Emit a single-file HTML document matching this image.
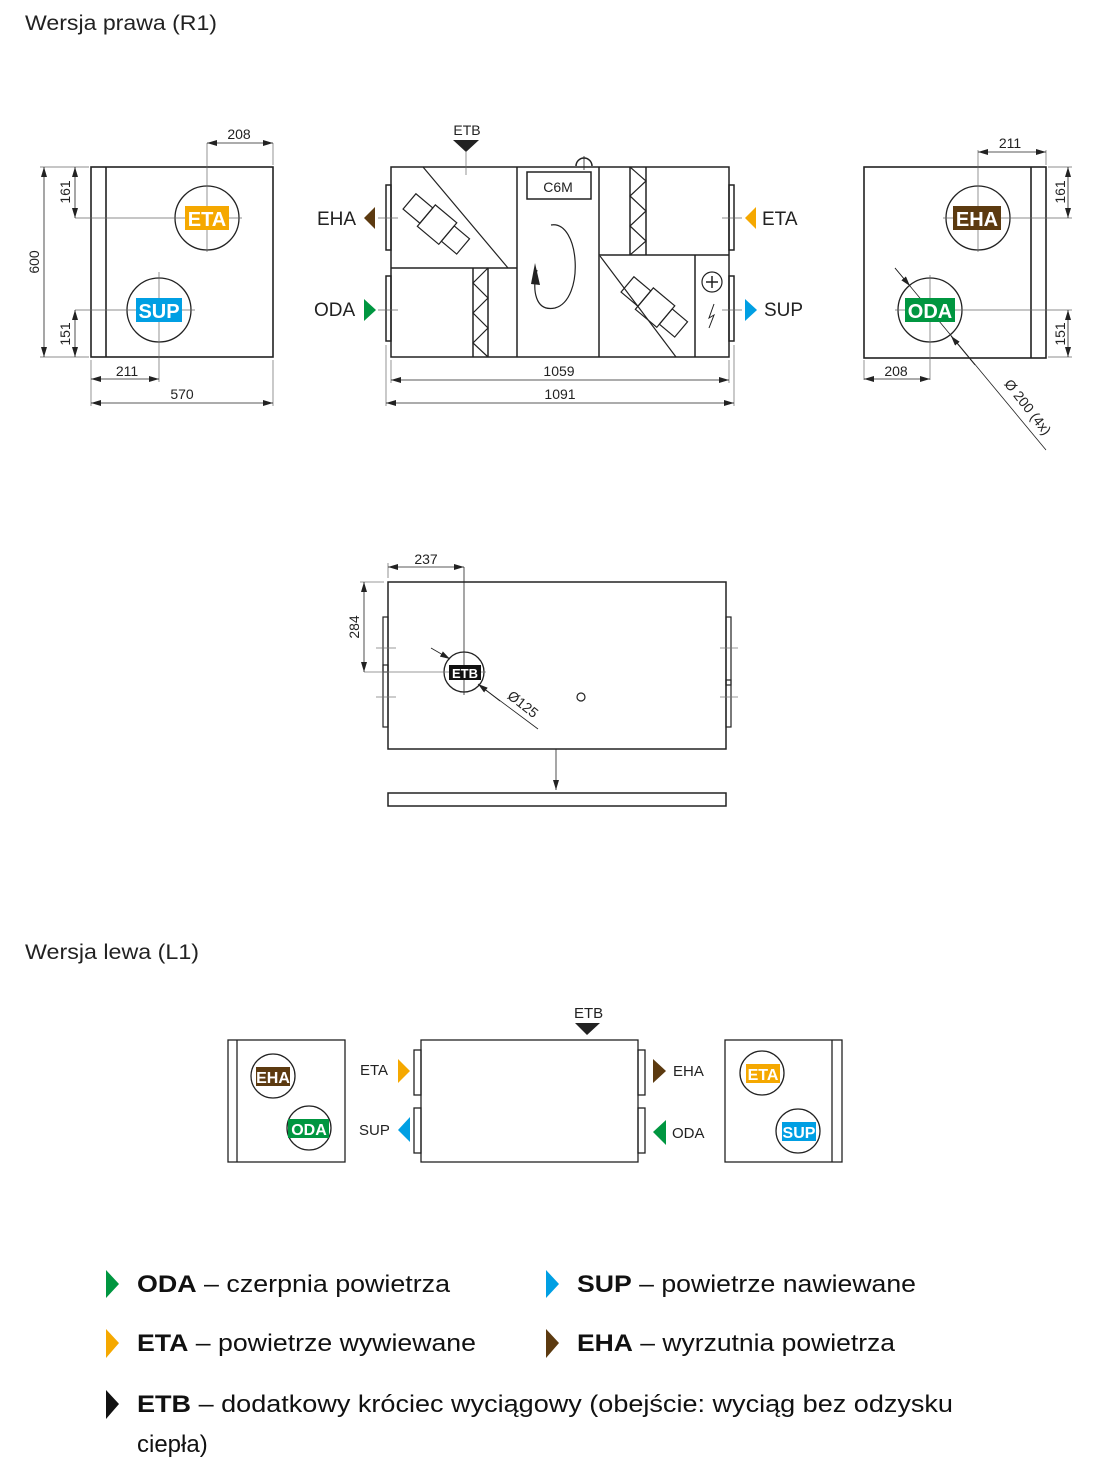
<!DOCTYPE html>
<html><head><meta charset="utf-8"><style>
html,body{margin:0;padding:0;background:#fff;}
svg{display:block;}
text{font-family:"Liberation Sans",sans-serif;}
</style></head><body>
<svg width="1117" height="1477" viewBox="0 0 1117 1477" xmlns="http://www.w3.org/2000/svg">
<defs>
<marker id="a" viewBox="0 0 10 6" refX="10" refY="3" markerWidth="10" markerHeight="6" orient="auto-start-reverse" markerUnits="userSpaceOnUse"><path d="M0,0 L10,3 L0,6 z" fill="#222"/></marker>
</defs>
<g fill="#222">
<text x="25" y="30" font-size="21" textLength="192" lengthAdjust="spacingAndGlyphs">Wersja prawa (R1)</text>
<text x="25" y="959" font-size="21" textLength="174" lengthAdjust="spacingAndGlyphs">Wersja lewa (L1)</text>
</g>

<!-- LEFT VIEW R1 -->
<g stroke="#222" fill="none">
<rect x="91" y="167" width="182" height="190" stroke-width="1.6"/>
<line x1="106" y1="167" x2="106" y2="357" stroke-width="1.6"/>
<circle cx="207" cy="218" r="32" stroke-width="1.3"/>
<circle cx="159" cy="310" r="32" stroke-width="1.3"/>
<g stroke-width="0.7" stroke="#666">
<line x1="75" y1="218" x2="242" y2="218"/><line x1="207" y1="143" x2="207" y2="252"/>
<line x1="75" y1="310" x2="195" y2="310"/><line x1="159" y1="272" x2="159" y2="382"/>
<line x1="273" y1="143" x2="273" y2="165"/><line x1="91" y1="360" x2="91" y2="406"/><line x1="273" y1="360" x2="273" y2="406"/>
<line x1="40" y1="167" x2="89" y2="167"/><line x1="40" y1="357" x2="89" y2="357"/>
</g>
<g stroke-width="0.8">
<line x1="207" y1="143" x2="273" y2="143" marker-start="url(#a)" marker-end="url(#a)"/>
<line x1="44" y1="167" x2="44" y2="357" marker-start="url(#a)" marker-end="url(#a)"/>
<line x1="75" y1="167" x2="75" y2="218" marker-start="url(#a)" marker-end="url(#a)"/>
<line x1="75" y1="310" x2="75" y2="357" marker-start="url(#a)" marker-end="url(#a)"/>
<line x1="91" y1="379" x2="159" y2="379" marker-start="url(#a)" marker-end="url(#a)"/>
<line x1="91" y1="403" x2="273" y2="403" marker-start="url(#a)" marker-end="url(#a)"/>
</g>
</g>
<rect x="185" y="206" width="44" height="24" fill="#f5a800"/>
<text x="207" y="226" font-size="20" font-weight="bold" fill="#fff" text-anchor="middle">ETA</text>
<rect x="136" y="298" width="46" height="24" fill="#009fe3"/>
<text x="159" y="318" font-size="20" font-weight="bold" fill="#fff" text-anchor="middle">SUP</text>
<g font-size="14" fill="#222" text-anchor="middle">
<text x="239" y="139">208</text>
<text x="127" y="376">211</text>
<text x="182" y="399">570</text>
<text transform="translate(39,262) rotate(-90)">600</text>
<text transform="translate(70,192) rotate(-90)">161</text>
<text transform="translate(70,334) rotate(-90)">151</text>
</g>

<!-- MIDDLE R1 -->
<g stroke="#222" fill="none" stroke-width="1.5">
<rect x="391" y="167" width="338" height="190"/>
<rect x="386" y="185" width="5" height="65"/><rect x="386" y="276" width="5" height="65"/>
<rect x="729" y="185" width="5" height="65"/><rect x="729" y="276" width="5" height="65"/>
<line x1="391" y1="268" x2="517" y2="268"/>
<line x1="517" y1="167" x2="517" y2="357"/>
<line x1="599" y1="167" x2="599" y2="357"/>
<line x1="599" y1="255" x2="729" y2="255"/>
<line x1="695" y1="255" x2="695" y2="357"/>
<line x1="630" y1="167" x2="630" y2="255"/><line x1="646" y1="167" x2="646" y2="255"/>
<polyline points="630,167 646,181 630,196 646,211 630,226 646,241 630,255" stroke-width="1.2"/>
<line x1="473" y1="268" x2="473" y2="357"/><line x1="488" y1="268" x2="488" y2="357"/>
<polyline points="488,268 473,283 488,298 473,313 488,328 473,343 488,357" stroke-width="1.2"/>
<line x1="423" y1="167" x2="508" y2="268" stroke-width="1.2"/>
<line x1="600" y1="256" x2="676" y2="357" stroke-width="1.2"/>
<rect x="527" y="172" width="64" height="27"/>
<path d="M551,225 C580,220 585,300 555,308 C535,312 532,290 537,270" stroke-width="1.2"/>
<circle cx="712" cy="282" r="10" stroke-width="1.2"/>
<line x1="706" y1="282" x2="718" y2="282"/><line x1="712" y1="276" x2="712" y2="288"/>
<polyline points="714,304 709,318 714,315 709,328" stroke-width="1"/>
<path d="M576,166 a8,8 0 0 1 16,0"/><line x1="584" y1="156" x2="584" y2="170" stroke-width="0.8"/>
<!-- fans -->
<g stroke-width="1.2" transform="translate(434,222) rotate(40)">
<rect x="-32" y="-10" width="22" height="20"/><rect x="-10" y="-14" width="28" height="28"/><rect x="18" y="-10" width="20" height="20"/>
</g>
<g stroke-width="1.2" transform="translate(652,305) rotate(40)">
<rect x="-32" y="-10" width="22" height="20"/><rect x="-10" y="-14" width="28" height="28"/><rect x="18" y="-10" width="20" height="20"/>
</g>
<g stroke-width="0.7" stroke="#666">
<line x1="466" y1="152" x2="466" y2="175"/>
<line x1="378" y1="218" x2="398" y2="218"/><line x1="378" y1="310" x2="398" y2="310"/>
<line x1="722" y1="218" x2="742" y2="218"/><line x1="722" y1="310" x2="742" y2="310"/>
<line x1="391" y1="360" x2="391" y2="383"/><line x1="729" y1="360" x2="729" y2="383"/>
<line x1="386" y1="345" x2="386" y2="406"/><line x1="734" y1="345" x2="734" y2="406"/>
</g>
<g stroke-width="0.8">
<line x1="391" y1="380" x2="729" y2="380" marker-start="url(#a)" marker-end="url(#a)"/>
<line x1="386" y1="403" x2="734" y2="403" marker-start="url(#a)" marker-end="url(#a)"/>
</g>
</g>
<polygon points="453,140 479,140 466,152" fill="#222"/>
<polygon points="535,263 540,285 531,284" fill="#222"/>
<g fill="#222" font-size="14" text-anchor="middle">
<text x="467" y="135">ETB</text>
<text x="558" y="192">C6M</text>
<text x="559" y="376">1059</text>
<text x="560" y="399">1091</text>
</g>
<g font-size="19" fill="#222">
<text x="317" y="225">EHA</text><text x="314" y="316">ODA</text>
<text x="762" y="225">ETA</text><text x="764" y="316">SUP</text>
</g>
<polygon points="375,207 375,229 364,218" fill="#5c3a10"/>
<polygon points="364,299 364,321 376,310" fill="#009640"/>
<polygon points="756,207 756,229 745,218" fill="#f5a800"/>
<polygon points="745,299 745,321 757,310" fill="#009fe3"/>

<!-- RIGHT VIEW R1 -->
<g stroke="#222" fill="none">
<rect x="864" y="167" width="182" height="191" stroke-width="1.6"/>
<line x1="1031" y1="167" x2="1031" y2="358" stroke-width="1.6"/>
<circle cx="978" cy="218" r="32" stroke-width="1.3"/>
<circle cx="930" cy="310" r="32" stroke-width="1.3"/>
<g stroke-width="0.7" stroke="#666">
<line x1="943" y1="218" x2="1072" y2="218"/><line x1="978" y1="150" x2="978" y2="252"/>
<line x1="895" y1="310" x2="1072" y2="310"/><line x1="930" y1="275" x2="930" y2="380"/>
<line x1="1046" y1="150" x2="1046" y2="165"/><line x1="864" y1="360" x2="864" y2="380"/>
<line x1="1048" y1="167" x2="1072" y2="167"/><line x1="1048" y1="357" x2="1072" y2="357"/>
</g>
<g stroke-width="0.8">
<line x1="978" y1="152" x2="1046" y2="152" marker-start="url(#a)" marker-end="url(#a)"/>
<line x1="1068" y1="167" x2="1068" y2="218" marker-start="url(#a)" marker-end="url(#a)"/>
<line x1="1068" y1="310" x2="1068" y2="357" marker-start="url(#a)" marker-end="url(#a)"/>
<line x1="864" y1="379" x2="930" y2="379" marker-start="url(#a)" marker-end="url(#a)"/>
<line x1="895" y1="268" x2="1046" y2="450"/>
<line x1="895" y1="268" x2="910" y2="286" marker-end="url(#a)"/>
<line x1="975" y1="365" x2="951" y2="336" marker-end="url(#a)"/>
</g>
</g>
<rect x="953" y="206" width="48" height="24" fill="#5c3a10"/>
<text x="977" y="226" font-size="20" font-weight="bold" fill="#fff" text-anchor="middle">EHA</text>
<rect x="905" y="298" width="50" height="24" fill="#009640"/>
<text x="930" y="318" font-size="20" font-weight="bold" fill="#fff" text-anchor="middle">ODA</text>
<g font-size="14" fill="#222" text-anchor="middle">
<text x="1010" y="148">211</text>
<text x="896" y="376">208</text>
<text transform="translate(1065,192) rotate(-90)">161</text>
<text transform="translate(1065,334) rotate(-90)">151</text>
<text transform="translate(1024,410) rotate(52)">Ø 200 (4x)</text>
</g>

<!-- ETB TOP VIEW -->
<g stroke="#222" fill="none">
<rect x="388" y="582" width="338" height="167" stroke-width="1.5"/>
<rect x="383" y="617" width="5" height="55" stroke-width="1.2"/><rect x="383" y="665" width="5" height="62" stroke-width="1.2"/>
<rect x="726" y="617" width="5" height="68" stroke-width="1.2"/><rect x="726" y="680" width="5" height="47" stroke-width="1.2"/>
<rect x="388" y="793" width="338" height="13" stroke-width="1.5"/>
<circle cx="464" cy="672" r="20" stroke-width="1.3"/>
<circle cx="581" cy="697" r="4" stroke-width="1.2"/>
<g stroke-width="0.8">
<line x1="464" y1="567" x2="464" y2="695"/>
<line x1="364" y1="672" x2="486" y2="672" stroke="#777"/>
<line x1="376" y1="648" x2="396" y2="648" stroke="#777"/><line x1="376" y1="697" x2="396" y2="697" stroke="#777"/>
<line x1="720" y1="648" x2="738" y2="648" stroke="#777"/><line x1="720" y1="697" x2="738" y2="697" stroke="#777"/>
<line x1="388" y1="563" x2="388" y2="578" stroke="#777"/>
<line x1="360" y1="582" x2="384" y2="582" stroke="#777"/>
<line x1="388" y1="567" x2="464" y2="567" marker-start="url(#a)" marker-end="url(#a)"/>
<line x1="364" y1="582" x2="364" y2="672" marker-start="url(#a)" marker-end="url(#a)"/>
<line x1="431" y1="648" x2="450" y2="659" marker-end="url(#a)"/>
<line x1="538" y1="729" x2="479" y2="685"/>
<line x1="500" y1="701" x2="478" y2="684" marker-end="url(#a)"/>
<line x1="556" y1="749" x2="556" y2="790" marker-end="url(#a)"/>
</g>
</g>
<rect x="449" y="665" width="32" height="15" fill="#111"/>
<text x="465" y="678" font-size="13" font-weight="bold" fill="#fff" text-anchor="middle">ETB</text>
<g font-size="14" fill="#222" text-anchor="middle">
<text x="426" y="564">237</text>
<text transform="translate(359,627) rotate(-90)">284</text>
<text transform="translate(520,708) rotate(38)">Ø125</text>
</g>

<!-- L1 -->
<g stroke="#222" fill="none" stroke-width="1.3">
<rect x="228" y="1040" width="117" height="122"/><line x1="237" y1="1040" x2="237" y2="1162"/>
<circle cx="273" cy="1076" r="22"/><circle cx="309" cy="1128" r="22"/>
<rect x="421" y="1040" width="217" height="122"/>
<rect x="414" y="1050" width="7" height="45"/><rect x="414" y="1108" width="7" height="45"/>
<rect x="638" y="1050" width="7" height="45"/><rect x="638" y="1108" width="7" height="45"/>
<rect x="725" y="1040" width="117" height="122"/><line x1="832" y1="1040" x2="832" y2="1162"/>
<circle cx="762" cy="1073" r="22"/><circle cx="798" cy="1131" r="22"/>
</g>
<rect x="256" y="1067" width="34" height="19" fill="#5c3a10"/>
<text x="273" y="1083" font-size="16" font-weight="bold" fill="#fff" text-anchor="middle">EHA</text>
<rect x="288" y="1119" width="41" height="19" fill="#009640"/>
<text x="309" y="1135" font-size="16" font-weight="bold" fill="#fff" text-anchor="middle">ODA</text>
<rect x="746" y="1064" width="34" height="19" fill="#f5a800"/>
<text x="763" y="1080" font-size="16" font-weight="bold" fill="#fff" text-anchor="middle">ETA</text>
<rect x="782" y="1122" width="34" height="19" fill="#009fe3"/>
<text x="799" y="1138" font-size="16" font-weight="bold" fill="#fff" text-anchor="middle">SUP</text>
<polygon points="575,1023 600,1023 587,1035" fill="#222"/>
<g font-size="15" fill="#222">
<text x="574" y="1018">ETB</text>
<text x="360" y="1075">ETA</text><text x="359" y="1135">SUP</text>
<text x="673" y="1076">EHA</text><text x="672" y="1138">ODA</text>
</g>
<polygon points="398,1059 398,1083 410,1071" fill="#f5a800"/>
<polygon points="410,1117 410,1142 398,1130" fill="#009fe3"/>
<polygon points="653,1059 653,1083 666,1071" fill="#5c3a10"/>
<polygon points="666,1120 666,1145 653,1132" fill="#009640"/>

<!-- LEGEND -->
<polygon points="106,1270 106,1298 119,1284" fill="#009640"/>
<polygon points="546,1270 546,1298 559,1284" fill="#009fe3"/>
<polygon points="106,1329 106,1358 119,1343" fill="#f5a800"/>
<polygon points="546,1329 546,1358 559,1343" fill="#5c3a10"/>
<polygon points="106,1390 106,1419 119,1404" fill="#111"/>
<g font-size="24" fill="#111">
<text x="137" y="1292" textLength="313" lengthAdjust="spacingAndGlyphs"><tspan font-weight="bold">ODA</tspan> – czerpnia powietrza</text>
<text x="577" y="1292" textLength="339" lengthAdjust="spacingAndGlyphs"><tspan font-weight="bold">SUP</tspan> – powietrze nawiewane</text>
<text x="137" y="1351" textLength="339" lengthAdjust="spacingAndGlyphs"><tspan font-weight="bold">ETA</tspan> – powietrze wywiewane</text>
<text x="577" y="1351" textLength="318" lengthAdjust="spacingAndGlyphs"><tspan font-weight="bold">EHA</tspan> – wyrzutnia powietrza</text>
<text x="137" y="1412" textLength="816" lengthAdjust="spacingAndGlyphs"><tspan font-weight="bold">ETB</tspan> – dodatkowy króciec wyciągowy (obejście: wyciąg bez odzysku</text>
<text x="137" y="1452">ciepła)</text>
</g>
</svg>
</body></html>
